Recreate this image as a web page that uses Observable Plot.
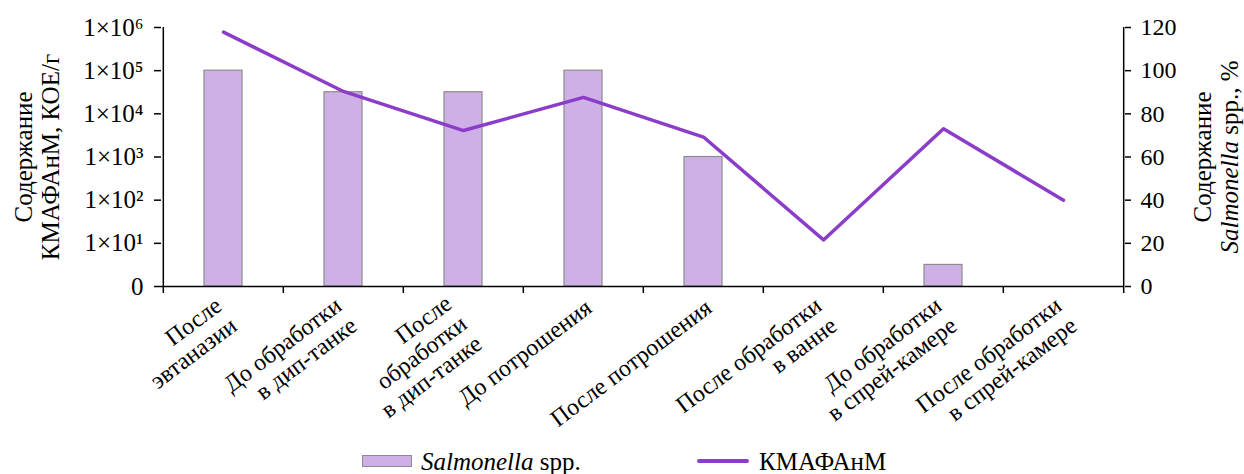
<!DOCTYPE html>
<html><head><meta charset="utf-8">
<script src="https://cdn.jsdelivr.net/npm/d3@7"></script>
<script src="https://cdn.jsdelivr.net/npm/@observablehq/plot@0.6"></script>
<style>
body{margin:0;background:#fff;font-family:'Liberation Serif',serif;}
#wrap{position:relative;width:1244px;height:474px;overflow:hidden;}
#wrap svg{position:absolute;left:0;top:0;}
.lg{position:absolute;font-size:25px;line-height:1;white-space:nowrap;color:#000;}
</style></head><body>
<div id="wrap"></div>
<script>
// ---- data ----
const stages = [
  "После\nэвтаназии",
  "До обработки\nв дип-танке",
  "После\nобработки\nв дип-танке",
  "До потрошения",
  "После потрошения",
  "После обработки\nв ванне",
  "До обработки\nв спрей-камере",
  "После обработки\nв спрей-камере"
];
const salmonellaPct = [100, 90, 90, 100, 60, 0, 10, 0];
const kmafanm = [7.8e5, 3.3e4, 4.1e3, 2.4e4, 2.9e3, 12, 4.5e3, 1.0e2];
const leftTicks = [1, 10, 100, 1e3, 1e4, 1e5, 1e6];
const leftTickLabels = ["0", "1×10¹", "1×10²", "1×10³", "1×10⁴", "1×10⁵", "1×10⁶"];
const rightTicks = [0, 20, 40, 60, 80, 100, 120];
const leftTitle = "Содержание\nКМАФАнМ, КОЕ/г";
const rightTitle1 = "Содержание";
const rightTitleItalic = "Salmonella";
const rightTitleRest = "spp., %";
const legendBar = ["Salmonella", " spp."];
const legendLine = "КМАФАнМ";

// ---- layout ----
const W = 1244, H = 440;
const mTop = 27, mBottom = 154, mLeft = 161, mRight = 120;
const innerW = W - mLeft - mRight, innerH = H - mTop - mBottom;
const step = innerW / stages.length;
const FONT = "'Liberation Serif', serif";
const barFill = "#cfb0e6", barStroke = "#8c8c8c", lineColor = "#8b3dc9";

const rows = stages.map((s, i) => ({stage: s, salm: salmonellaPct[i], kma: kmafanm[i]}));

const cvs = document.createElement("canvas").getContext("2d");
function tw(t, font) { cvs.font = font; return cvs.measureText(t).width; }

const common = {width: W, height: H, marginTop: mTop, marginBottom: mBottom, marginLeft: mLeft, marginRight: mRight};

// rotated category labels: right-aligned lines, taller blocks shifted left
const labelMarks = stages.map(s => {
  const n = s.split("\n").length;
  return Plot.text([s], {x: d => d, text: d => d, frameAnchor: "bottom", rotate: -37,
    textAnchor: "end", lineAnchor: "top", lineHeight: 1.05, fontSize: 24,
    dx: -1 - 10 * (n - 1), dy: 10 - 2 * (n - 1)});
});

const p1 = Plot.plot({
  ...common,
  style: {fontFamily: FONT, background: "white", overflow: "visible"},
  x: {type: "band", domain: stages, padding: 0, axis: null},
  y: {domain: [0, 120]},
  marks: [
    Plot.barY(rows.filter(d => d.salm > 0), {x: "stage", y: "salm", fill: barFill, stroke: barStroke, strokeWidth: 1.2, insetLeft: 41, insetRight: 41}),
    Plot.axisY(rightTicks, {anchor: "right", tickSize: 6, tickPadding: 10, fontSize: 24, label: null, strokeWidth: 1.5}),
    Plot.ruleY([0], {strokeWidth: 1.5}),
    Plot.ruleX([stages[0]], {x: d => d, dx: -step / 2, strokeWidth: 1.5}),
    Plot.ruleX([stages[stages.length - 1]], {x: d => d, dx: step / 2, strokeWidth: 1.5}),
    Plot.tickX(stages, {x: d => d, dx: -step / 2, insetTop: innerH, insetBottom: -7, strokeWidth: 1.5}),
    Plot.tickX([stages[stages.length - 1]], {x: d => d, dx: step / 2, insetTop: innerH, insetBottom: -7, strokeWidth: 1.5}),
    ...labelMarks
  ]
});

const tFS = 25;
const wItal = tw(rightTitleItalic + " ", `italic ${tFS}px ${FONT}`);
const wRest = tw(rightTitleRest, `${tFS}px ${FONT}`);
const tot = wItal + wRest;

const p2 = Plot.plot({
  ...common,
  style: {fontFamily: FONT, background: "none", overflow: "visible"},
  x: {type: "band", domain: stages, padding: 0, axis: null},
  y: {type: "log", domain: [1, 1e6]},
  marks: [
    Plot.axisY(leftTicks, {anchor: "left", tickSize: 7, tickPadding: 11, fontSize: 25, label: null, strokeWidth: 1.5,
      tickFormat: d => leftTickLabels[leftTicks.indexOf(d)]}),
    Plot.line(rows, {x: "stage", y: "kma", stroke: lineColor, strokeWidth: 3.5}),
    Plot.text([leftTitle], {text: d => d, frameAnchor: "left", rotate: -90, dx: -125, fontSize: tFS,
      textAnchor: "middle", lineAnchor: "middle", lineHeight: 1.08}),
    Plot.text([rightTitle1], {text: d => d, frameAnchor: "right", rotate: -90, dx: 78, fontSize: tFS,
      textAnchor: "middle", lineAnchor: "middle"}),
    Plot.text([rightTitleItalic], {text: d => d, frameAnchor: "right", rotate: -90, dx: 105, dy: tot / 2, fontSize: tFS,
      fontStyle: "italic", textAnchor: "start", lineAnchor: "middle"}),
    Plot.text([rightTitleRest], {text: d => d, frameAnchor: "right", rotate: -90, dx: 105, dy: tot / 2 - wItal, fontSize: tFS,
      textAnchor: "start", lineAnchor: "middle"})
  ]
});

const wrap = document.getElementById("wrap");
wrap.appendChild(p1);
wrap.appendChild(p2);

// legend (below the chart)
const lg = document.createElement("div");
lg.innerHTML = `
<div style="position:absolute;left:362px;top:455px;width:50px;height:12px;background:${barFill};border:1px solid ${barStroke};box-sizing:border-box"></div>
<div class="lg" style="left:421px;top:449px"><i>${legendBar[0]}</i>${legendBar[1]}</div>
<div style="position:absolute;left:697px;top:459px;width:52px;height:3.5px;background:${lineColor};border-radius:2px"></div>
<div class="lg" style="left:759px;top:449px">${legendLine}</div>`;
wrap.appendChild(lg);
</script>
</body></html>
